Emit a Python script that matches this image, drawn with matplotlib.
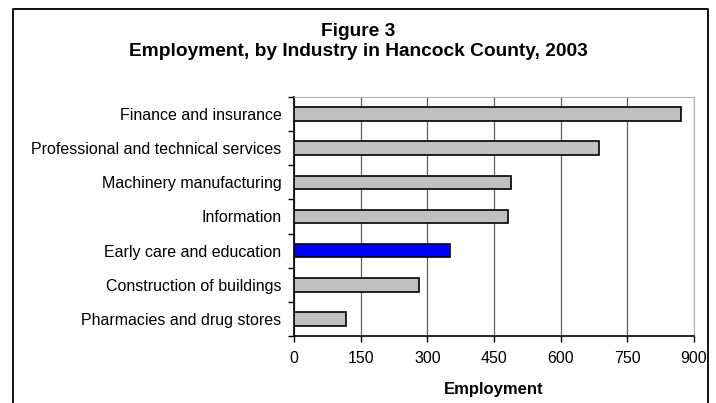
import matplotlib
matplotlib.use('Agg')
from matplotlib import pyplot as plt
from matplotlib.lines import Line2D

industries = ['Finance and insurance', 'Professional and technical services',
              'Machinery manufacturing', 'Information', 'Early care and education',
              'Construction of buildings', 'Pharmacies and drug stores']
employment = [870, 687, 488, 481, 351, 282, 118]
bar_colors = ['#c0c0c0', '#c0c0c0', '#c0c0c0', '#c0c0c0', '#0000ff', '#c0c0c0', '#c0c0c0']
xticks = [0, 150, 300, 450, 600, 750, 900]

plt.rcParams['font.family'] = ['Liberation Sans', 'DejaVu Sans']

fig = plt.figure(figsize=(7.16, 4.03), dpi=100)
ax = fig.add_axes([294 / 716, 1 - 336 / 403, 400 / 716, 239 / 403])

pos = list(range(len(industries)))[::-1]
ax.barh(pos, employment, height=0.4, color=bar_colors, edgecolor='black', linewidth=1.2, zorder=3)

ax.set_xlim(0, 900)
ax.set_ylim(-0.5, len(industries) - 0.5)
ax.set_xticks(xticks)
ax.set_xticklabels([str(t) for t in xticks], fontsize=11.5)
ax.set_yticks(pos)
ax.set_yticklabels(industries, fontsize=11.5)
ax.set_yticks([p - 0.5 for p in range(len(industries) + 1)], minor=True)
ax.tick_params(axis='y', which='major', length=0, pad=9)
ax.tick_params(axis='y', which='minor', length=4, direction='out', width=1)
ax.tick_params(axis='x', length=4, direction='out', width=1, pad=7)
ax.grid(axis='x', color='#606060', linewidth=0.9, zorder=0)

for s in ['top', 'right']:
    ax.spines[s].set_color('#b0b0b0')
for s in ['left', 'bottom']:
    ax.spines[s].set_color('black')
    ax.spines[s].set_linewidth(1.2)

ax.set_xlabel('Employment', fontsize=12, fontweight='bold', labelpad=11)

fig.text(0.5, 1 - 31 / 403, 'Figure 3', ha='center', va='center', fontsize=13.8, fontweight='bold')
fig.text(0.5, 1 - 51 / 403, 'Employment, by Industry in Hancock County, 2003', ha='center', va='center',
         fontsize=13.8, fontweight='bold')

# outer frame (left, top, right; bottom runs off the picture)
fx0, fx1, fy = 13 / 716, 708 / 716, 1 - 9 / 403
fig.add_artist(Line2D([fx0, fx0, fx1, fx1], [0, fy, fy, 0], color='black', linewidth=1.3,
                      transform=fig.transFigure))

fig.savefig('out.png', dpi=100)
